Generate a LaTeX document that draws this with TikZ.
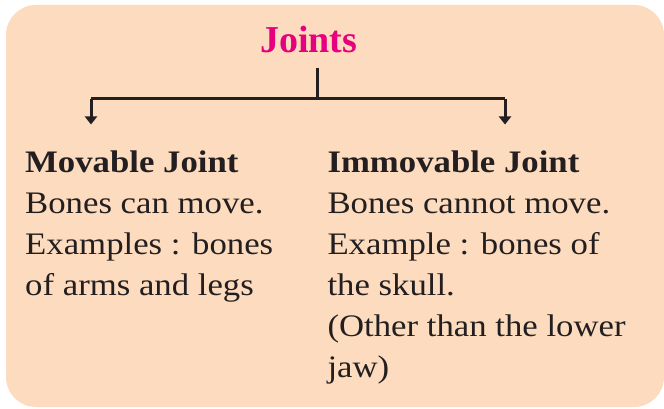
\documentclass[tikz,border=0pt]{standalone}
\usepackage{fontspec}
\setmainfont[FakeStretch=1.11]{Liberation Serif}
\newfontfamily\titlefont{Liberation Serif}
\usepackage{xcolor}
\usetikzlibrary{arrows.meta,positioning}
\definecolor{peach}{RGB}{252,219,190}
\definecolor{inkdark}{RGB}{35,31,32}
\definecolor{jointpink}{RGB}{230,0,126}

\begin{document}
\begin{tikzpicture}[
  x=1pt, y=1pt,
  card/.style={fill=peach, rounded corners=30pt},
  heading/.style={anchor=base, inner sep=0pt, text=jointpink, font=\titlefont\fontsize{38}{44}\selectfont\bfseries},
  column/.style={anchor=north west, inner sep=0pt, align=left, text=inkdark, font=\fontsize{31.3}{41}\selectfont},
  link/.style={draw=inkdark, line width=3pt},
  arrow/.style={link, -{Triangle[width=12pt, length=8pt]}}
]
\useasboundingbox (0,0) rectangle (664,-409);
\fill[card] (6,-5) rectangle (664,-407);

\node[heading] (joints) at (308.7,-52.3) {Joints};
\node[column] (movable) at (25,-143.5) {\textbf{Movable Joint}\strut\\Bones can move.\\Examples : bones\\of arms and legs};
\node[column] (immovable) at (327.3,-143.5) {\textbf{Immovable Joint}\strut\\Bones cannot move.\\Example : bones of\\the skull.\\(Other than the lower\\jaw)};

\coordinate (split) at (317,-99);
\coordinate (lturn) at (91,-99);
\coordinate (rturn) at (505,-99);
\draw[link, shorten <=14.7pt] (joints.south -| split) -- (split);
\draw[link] (lturn) -- (rturn);
\draw[arrow, shorten >=19pt] (lturn) -- (lturn |- movable.north);
\draw[arrow, shorten >=19pt] (rturn) -- (rturn |- immovable.north);
\end{tikzpicture}
\end{document}
